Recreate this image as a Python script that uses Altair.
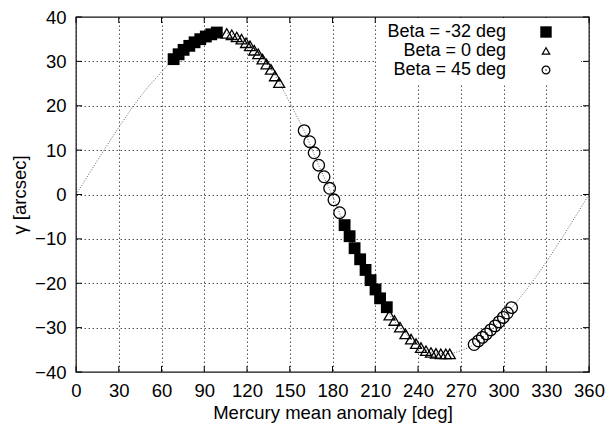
import altair as alt
import pandas as pd

# dotted model curve
curve_anomaly = [0, 10, 20, 30, 40, 50, 60, 70, 80, 90, 100, 110, 120, 130, 140, 150, 160, 170, 180,
                 190, 200, 210, 220, 230, 240, 250, 260, 270, 280, 290, 300, 310, 320, 330, 340, 350, 360]
curve_gamma = [0, 5.1, 10.2, 15.1, 19.8, 24.0, 27.6, 31.0, 33.6, 35.5, 36.5, 36.1, 34.2, 31.1, 26.7, 20.7, 14.4,
               6.8, -0.3, -8.0, -15.0, -21.3, -27.0, -30.9, -33.9, -35.6, -35.9, -35.2, -33.6, -30.8, -27.7,
               -23.9, -19.8, -15.2, -10.3, -5.2, 0]

# Beta = -32 deg (filled squares)
sq_anomaly = [68.5, 72.0, 75.5, 79.5, 83.2, 87.2, 91.1, 94.9, 98.8,
              188.5, 192.0, 195.5, 199.4, 203.2, 206.7, 210.2, 213.4, 218.1]
sq_gamma = [30.5, 31.6, 32.6, 33.5, 34.3, 35.0, 35.6, 36.1, 36.5,
            -6.9, -9.4, -12.1, -14.6, -17.0, -19.3, -21.4, -23.4, -25.4]

# Beta = 0 deg (open triangles)
tri_anomaly = [105.8, 109.3, 112.8, 116.2, 119.3, 122.1, 125.1, 127.9, 130.9, 133.7, 136.8, 139.6, 142.6,
               220.0, 223.5, 227.4, 231.2, 235.1, 238.6, 242.1, 245.6, 249.1, 252.6, 256.0, 259.5, 262.3]
tri_gamma = [36.3, 36.0, 35.5, 35.0, 34.2, 33.5, 32.5, 31.7, 30.5, 29.4, 28.2, 26.7, 25.2,
             -27.2, -28.4, -29.9, -31.4, -32.6, -33.6, -34.5, -35.2, -35.6, -35.8, -35.9, -35.9, -35.9]

# Beta = 45 deg (open circles)
circ_anomaly = [160.1, 164.0, 167.1, 170.3, 174.1, 178.0, 181.0, 185.0,
                279.4, 282.4, 285.2, 288.0, 291.0, 294.1, 296.9, 299.9, 302.7, 305.7]
circ_gamma = [14.4, 11.9, 9.4, 6.6, 4.0, 1.4, -1.2, -4.1,
              -33.8, -33.0, -32.2, -31.4, -30.5, -29.6, -28.7, -27.7, -26.7, -25.5]

legend_labels = ["Beta = -32 deg", "Beta = 0 deg", "Beta = 45 deg"]
x_ticks = list(range(0, 361, 30))
y_ticks = list(range(-40, 41, 10))

W, H = 513, 355
FONT = "Liberation Sans"

xs = alt.Scale(domain=[0, 360], nice=False, zero=False)
ys = alt.Scale(domain=[-40, 40], nice=False, zero=False)

X = alt.X("m:Q", scale=xs, axis=alt.Axis(values=x_ticks, title="Mercury mean anomaly [deg]",
                                           grid=True, ticks=False, domain=False, labelPadding=9,
                                           titlePadding=4, labelOverlap=False, labelFlush=False))
Y = alt.Y("g:Q", scale=ys, axis=alt.Axis(values=y_ticks, title="γ [arcsec]", grid=True,
                                           ticks=False, domain=False, labelPadding=10,
                                           titlePadding=5, labelOverlap=False, labelFlush=False))

curve_df = pd.DataFrame({"m": curve_anomaly, "g": curve_gamma})
sq_df = pd.DataFrame({"m": sq_anomaly, "g": sq_gamma})
tri_df = pd.DataFrame({"m": tri_anomaly, "g": tri_gamma})
circ_df = pd.DataFrame({"m": circ_anomaly, "g": circ_gamma})
xt_df = pd.DataFrame({"m": x_ticks})
yt_df = pd.DataFrame({"g": y_ticks})

curve = alt.Chart(curve_df).mark_line(color="#666", strokeWidth=1, strokeDash=[1, 1.6],
                                      interpolate="monotone").encode(x=X, y=Y)
squares = alt.Chart(sq_df).mark_point(shape="square", filled=True, color="black", size=140,
                                      opacity=1).encode(x="m:Q", y="g:Q")
tris = alt.Chart(tri_df).mark_point(shape="triangle-up", filled=False, color="black", size=120,
                                    strokeWidth=1.3, opacity=1).encode(x="m:Q", y="g:Q")
circs = alt.Chart(circ_df).mark_point(shape="circle", filled=False, color="black", size=135,
                                      strokeWidth=1.3, opacity=1).encode(x="m:Q", y="g:Q")

# inward tick marks on all four sides (gnuplot style)
tick_len = 6
xb = alt.Chart(xt_df).mark_rule(color="black").encode(x="m:Q", y=alt.value(H), y2=alt.value(H - tick_len))
xtp = alt.Chart(xt_df).mark_rule(color="black").encode(x="m:Q", y=alt.value(0), y2=alt.value(tick_len))
yl = alt.Chart(yt_df).mark_rule(color="black").encode(y="g:Q", x=alt.value(0), x2=alt.value(tick_len))
yr = alt.Chart(yt_df).mark_rule(color="black").encode(y="g:Q", x=alt.value(W), x2=alt.value(W - tick_len))

# legend box (white background, label then symbol)
LX_TEXT = 430
LX_SYM = 470
leg_bg = alt.Chart(pd.DataFrame({"k": [0]})).mark_rect(color="white").encode(
    x=alt.value(300), x2=alt.value(W - 8), y=alt.value(1), y2=alt.value(67))
leg_rows = [15, 34, 53]
leg_layers = [leg_bg]
for lab, yy in zip(legend_labels, leg_rows):
    leg_layers.append(alt.Chart(pd.DataFrame({"t": [lab]})).mark_text(
        align="right", baseline="middle", font=FONT, fontSize=18, color="black").encode(
        text="t:N", x=alt.value(LX_TEXT), y=alt.value(yy)))
sym_df = pd.DataFrame({"k": [0]})
leg_layers.append(alt.Chart(sym_df).mark_point(shape="square", filled=True, color="black", size=130,
                                               opacity=1).encode(x=alt.value(LX_SYM), y=alt.value(leg_rows[0])))
leg_layers.append(alt.Chart(sym_df).mark_point(shape="triangle-up", filled=False, color="black", size=55,
                                               strokeWidth=1.2, opacity=1).encode(x=alt.value(LX_SYM), y=alt.value(leg_rows[1])))
leg_layers.append(alt.Chart(sym_df).mark_point(shape="circle", filled=False, color="black", size=60,
                                               strokeWidth=1.2, opacity=1).encode(x=alt.value(LX_SYM), y=alt.value(leg_rows[2])))
leg_layers.append(alt.Chart(sym_df).mark_point(shape="circle", filled=True, color="black", size=2,
                                               opacity=1).encode(x=alt.value(LX_SYM), y=alt.value(leg_rows[2])))

chart = alt.layer(curve, squares, tris, circs, xb, xtp, yl, yr, *leg_layers).properties(
    width=W, height=H,
    background="white",
    autosize=alt.AutoSizeParams(type="none"),
    padding={"left": 68, "top": 9, "right": 16, "bottom": 51},
).configure_view(stroke="#111", strokeWidth=1.3).configure_axis(
    labelFont=FONT, labelFontSize=18.5, labelColor="black",
    titleFont=FONT, titleFontSize=18.5, titleFontWeight="normal", titleColor="black",
    gridColor="#555", gridDash=[1.5, 2.5], gridWidth=1, gridOpacity=1,
)

chart.save("out.html", embed_options={"renderer": "svg", "actions": False})
